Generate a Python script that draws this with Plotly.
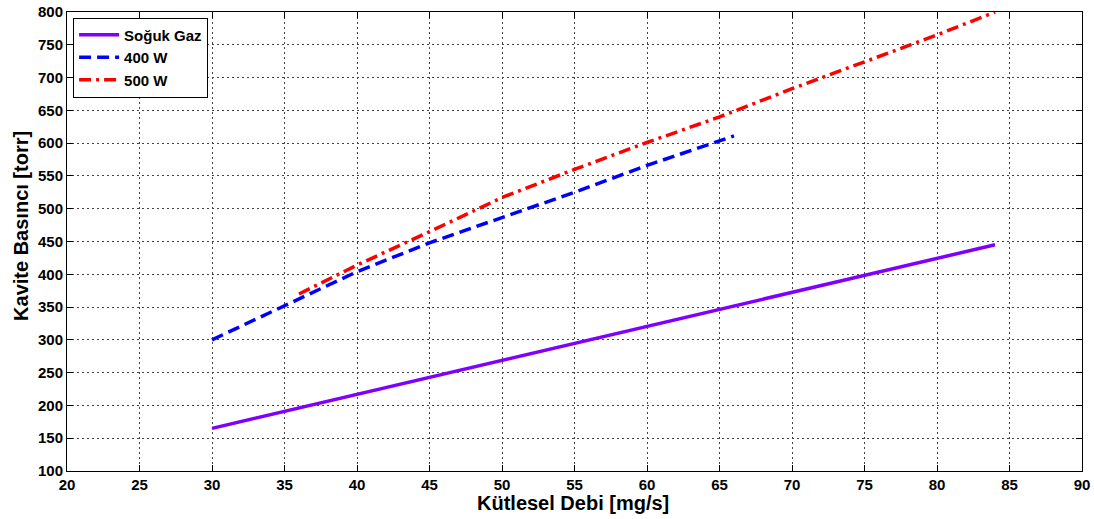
import plotly.graph_objects as go

# Kütlesel debi [mg/s] ve kavite basıncı [torr]
soguk_x = [30, 40, 50, 60, 70, 80, 84]
soguk_y = [165, 217, 269, 321, 372, 424, 445]

w400_x = [30, 35, 40, 45, 50, 55, 60, 65, 66]
w400_y = [300, 352, 404, 448, 487, 525, 566, 603, 611]

w500_x = [36, 40, 45, 50, 55, 60, 65, 70, 75, 80, 84]
w500_y = [370, 414, 465, 517, 560, 601, 640, 683, 724, 765, 800]

x_ticks = list(range(20, 91, 5))
y_ticks = list(range(100, 801, 50))

font_main = "Liberation Sans, Arial, sans-serif"

fig = go.Figure()
fig.add_trace(go.Scatter(x=soguk_x, y=soguk_y, mode="lines", name="Soğuk Gaz",
                         line=dict(color="#7F00FF", width=3.5)))
fig.add_trace(go.Scatter(x=w400_x, y=w400_y, mode="lines", name="400 W",
                         line=dict(color="#0000FF", width=3.5, dash="12px,6px")))
fig.add_trace(go.Scatter(x=w500_x, y=w500_y, mode="lines", name="500 W",
                         line=dict(color="#FF0000", width=3.5, dash="12px,5px,3px,5px")))

axis_common = dict(
    showline=True, linecolor="black", linewidth=1, mirror="ticks",
    ticks="inside", ticklen=6, tickcolor="black",
    showgrid=True, gridcolor="#444444", gridwidth=1, griddash="2px,3px",
    zeroline=False, automargin=False,
    tickfont=dict(family=font_main, size=15, color="black", weight="bold"),
)

fig.update_xaxes(range=[20, 90], tickvals=x_ticks, **axis_common)
fig.update_yaxes(range=[100, 800], tickvals=y_ticks, **axis_common)

title_font = dict(family=font_main, size=20, color="black", weight="bold")
fig.add_annotation(text="Kütlesel Debi [mg/s]", xref="paper", yref="paper",
                   x=0.499, y=-0.0697, xanchor="center", yanchor="middle",
                   showarrow=False, font=title_font)
fig.add_annotation(text="Kavite Basıncı [torr]", xref="paper", yref="paper",
                   x=-0.0453, y=0.534, xanchor="center", yanchor="middle",
                   textangle=-90, showarrow=False, font=title_font)

fig.update_layout(
    width=1094, height=519,
    margin=dict(l=67, r=12, t=12, b=48),
    plot_bgcolor="white", paper_bgcolor="white",
    legend=dict(x=0.006, y=0.988, xanchor="left", yanchor="top",
                bgcolor="white", bordercolor="black", borderwidth=1,
                font=dict(family=font_main, size=15, color="black", weight="bold"),
                tracegroupgap=0, itemwidth=40),
    showlegend=True,
)

fig.write_html("out.html")
